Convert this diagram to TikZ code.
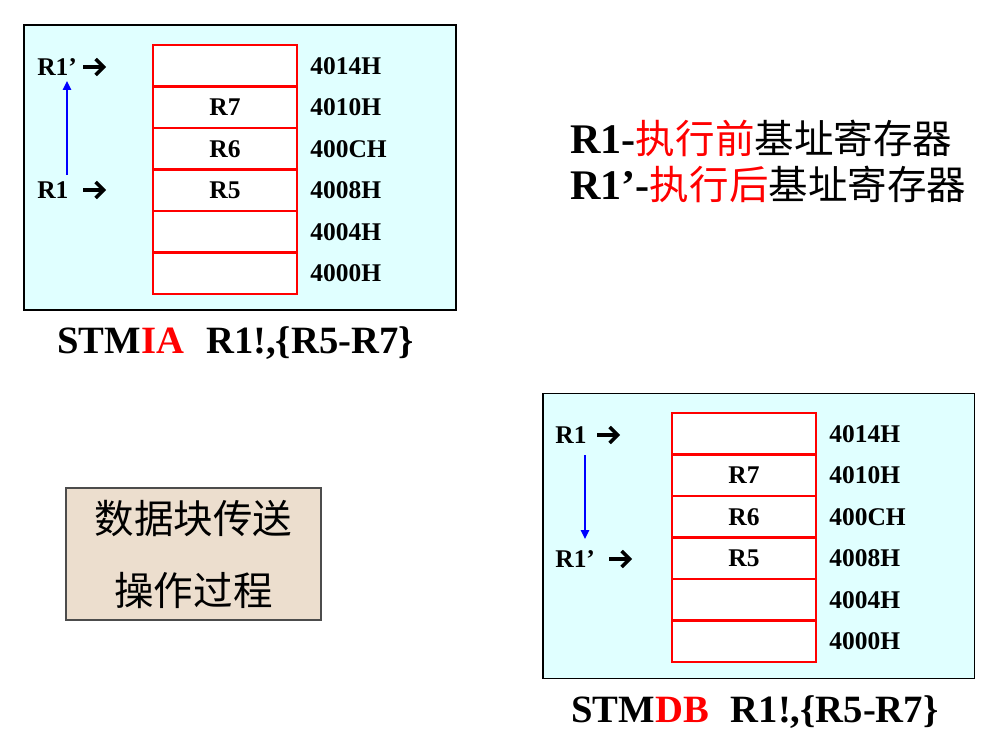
\documentclass[tikz,border=0pt]{standalone}
\usepackage{fontspec}
\setmainfont{Liberation Serif}
\newfontfamily\cjk{Noto Sans CJK SC}
\usetikzlibrary{positioning,arrows.meta}
\definecolor{panelcyan}{RGB}{224,255,255}
\definecolor{boxtan}{RGB}{236,222,206}
\tikzset{
  panel/.style={draw=black,line width=1.1pt,fill=panelcyan,inner sep=0pt,
    minimum width=8.64cm,minimum height=5.7cm},
  cell/.style={draw=red,line width=1.3pt,fill=white,inner sep=0pt,outer sep=0pt,
    minimum width=2.88cm,minimum height=0.83cm,font=\fontsize{14.5}{16}\selectfont\bfseries},
  addr/.style={inner sep=0pt,font=\fontsize{14.5}{16}\selectfont\bfseries},
  reg/.style={inner sep=0pt,anchor=west,font=\fontsize{14.5}{16}\selectfont\bfseries},
  pointer/.style={line width=2pt,-{Straight Barb[length=4.5pt,width=9pt]}},
  move/.style={blue,line width=1.2pt,-{Triangle[length=5pt,width=4.5pt]}},
  instr/.style={inner sep=0pt,anchor=base west,font=\fontsize{22}{26}\selectfont\bfseries},
  note/.style={inner sep=0pt,anchor=base west,font=\fontsize{24}{30}\selectfont\bfseries}
}
\newcommand{\cjktext}[1]{{\cjk\mdseries\fontsize{22.5}{30}\selectfont #1}}
\begin{document}
\begin{tikzpicture}[x=0.02cm,y=-0.02cm]
  \useasboundingbox (0,0) rectangle (1003,740);
  % STMIA: increment after
  \node[panel] (panelA) at (240,167.5) {};
  \node[cell] (a1) at (225,65.75) {};
  \node[cell] (a2) at (225,107.25) {R7};
  \node[cell] (a3) at (225,148.75) {R6};
  \node[cell] (a4) at (225,190.25) {R5};
  \node[cell] (a5) at (225,231.75) {};
  \node[cell] (a6) at (225,273.25) {};
  \node[addr,right=0.26cm of a1] (ma1) {4014H};
  \node[addr,right=0.26cm of a2] (ma2) {4010H};
  \node[addr,right=0.26cm of a3] (ma3) {400CH};
  \node[addr,right=0.26cm of a4] (ma4) {4008H};
  \node[addr,right=0.26cm of a5] (ma5) {4004H};
  \node[addr,right=0.26cm of a6] (ma6) {4000H};
  \node[reg] (rna) at (37,67) {R1’};
  \node[reg] (roa) at (37,190) {R1};
  \coordinate (pna) at (83,67);
  \coordinate (pnb) at (106,67);
  \coordinate (poa) at (83,190);
  \coordinate (pob) at (106,190);
  \draw[pointer] (pna) -- (pnb);
  \draw[pointer] (poa) -- (pob);
  \coordinate (ua) at (67,175);
  \coordinate (ub) at (67,81);
  \draw[move] (ua) -- (ub);
  \node[instr] (ia) at (57,353) {STM\textcolor{red}{IA}\hspace{0.57em}R1!,\{R5-R7\}};
  % STMDB: decrement before
  \node[panel] (panelB) at (758.5,536) {};
  \node[cell] (b1) at (744,433.75) {};
  \node[cell] (b2) at (744,475.25) {R7};
  \node[cell] (b3) at (744,516.75) {R6};
  \node[cell] (b4) at (744,558.25) {R5};
  \node[cell] (b5) at (744,599.75) {};
  \node[cell] (b6) at (744,641.25) {};
  \node[addr,right=0.26cm of b1] (mb1) {4014H};
  \node[addr,right=0.26cm of b2] (mb2) {4010H};
  \node[addr,right=0.26cm of b3] (mb3) {400CH};
  \node[addr,right=0.26cm of b4] (mb4) {4008H};
  \node[addr,right=0.26cm of b5] (mb5) {4004H};
  \node[addr,right=0.26cm of b6] (mb6) {4000H};
  \node[reg] (rob) at (555,435) {R1};
  \node[reg] (rnb) at (555,559) {R1’};
  \coordinate (qoa) at (597,435);
  \coordinate (qob) at (620,435);
  \coordinate (qna) at (609,559);
  \coordinate (qnb) at (632,559);
  \draw[pointer] (qoa) -- (qob);
  \draw[pointer] (qna) -- (qnb);
  \coordinate (da) at (585,455);
  \coordinate (db) at (585,539);
  \draw[move] (da) -- (db);
  \node[instr] (ib) at (571,722) {STM\textcolor{red}{DB}\hspace{0.57em}R1!,\{R5-R7\}};
  % legend
  \node[note] (la) at (570,153) {R1-\cjktext{\textcolor{red}{执行前}基址寄存器}};
  \node[note] (lb) at (570,199) {R1’-\cjktext{\textcolor{red}{执行后}基址寄存器}};
  % caption box
  \node[draw=black!70,line width=0.9pt,fill=boxtan,minimum width=5.1cm,minimum height=2.64cm,
    align=center,font=\cjk\fontsize{22.5}{41}\selectfont] (cap) at (193.5,554)
    {数据块传送\\操作过程};
\end{tikzpicture}
\end{document}
